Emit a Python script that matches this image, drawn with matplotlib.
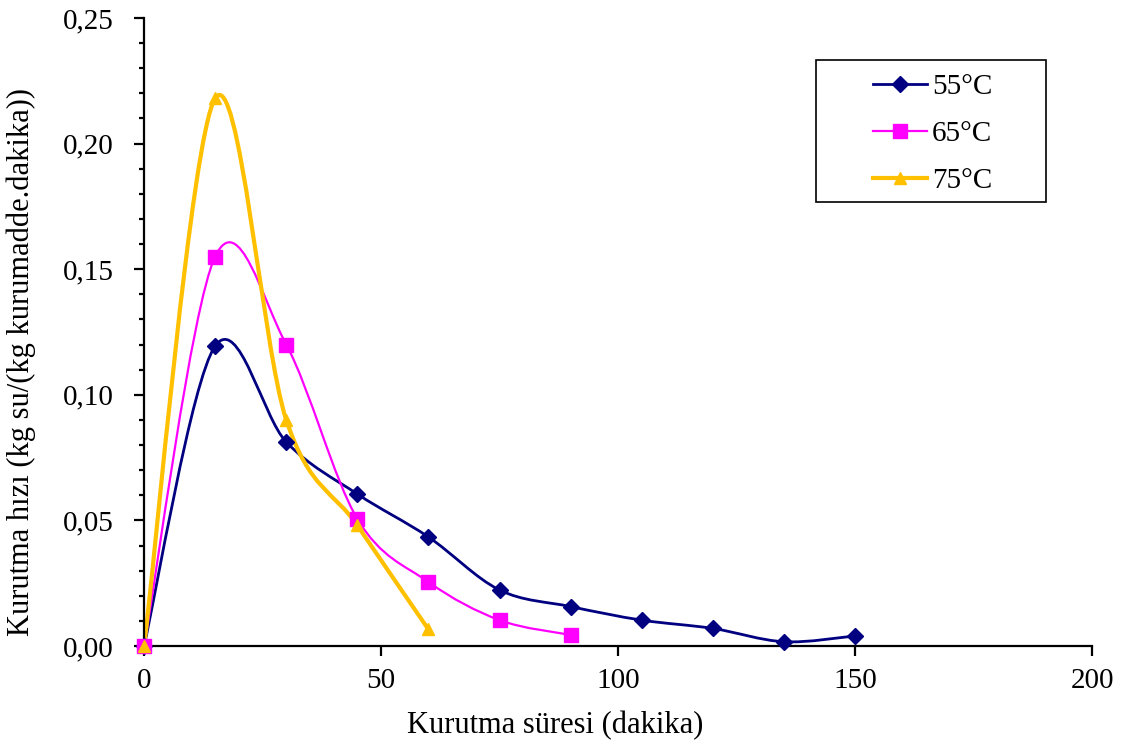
import numpy as np
import matplotlib
matplotlib.use("Agg")
import matplotlib.pyplot as plt
from matplotlib.path import Path
from matplotlib.patches import PathPatch, Rectangle
from matplotlib.lines import Line2D
from matplotlib.ticker import MultipleLocator, FuncFormatter

plt.rcParams['font.family'] = ['Liberation Serif', 'DejaVu Serif']

# drying rate data (kg water / (kg dry matter . min)) vs time (min)
t_55 = [0, 15, 30, 45, 60, 75, 90, 105, 120, 135, 150]
r_55 = [0.0, 0.1194, 0.0812, 0.0605, 0.0434, 0.0223, 0.0157, 0.0103, 0.0070, 0.0017, 0.0040]
t_65 = [0, 15, 30, 45, 60, 75, 90]
r_65 = [0.0, 0.155, 0.120, 0.0506, 0.0255, 0.0103, 0.0044]
t_75 = [0, 15, 30, 45, 60]
r_75 = [0.0, 0.218, 0.090, 0.048, 0.0066]

labels = ["55°C", "65°C", "75°C"]
colors = ["#000080", "#FF00FF", "#FFC000"]
markers = ["D", "s", "^"]
msizes = [8.5, 10, 9]
lwidths = [2.0, 1.6, 3.0]


def smooth_path(x, y):
    # smoothed line: cubic Bezier segments with Catmull-Rom tangents
    pts = np.column_stack([x, y]).astype(float)
    n = len(pts)
    verts = [pts[0]]
    codes = [Path.MOVETO]
    for i in range(n - 1):
        p0 = pts[i - 1] if i > 0 else pts[i]
        p1 = pts[i]
        p2 = pts[i + 1]
        p3 = pts[i + 2] if i + 2 < n else pts[i + 1]
        c1 = p1 + (p2 - p0) / 6.0
        c2 = p2 - (p3 - p1) / 6.0
        verts += [c1, c2, p2]
        codes += [Path.CURVE4] * 3
    return Path(verts, codes)


fig = plt.figure(figsize=(11.28, 7.49), dpi=100)
ax = fig.add_axes([0.1277, 0.1375, 0.8404, 0.8385])

series = [(t_55, r_55), (t_65, r_65), (t_75, r_75)]
handles = []
for (x, y), lab, c, m, ms, lw in zip(series, labels, colors, markers, msizes, lwidths):
    ax.add_patch(PathPatch(smooth_path(x, y), facecolor="none", edgecolor=c,
                           lw=lw, zorder=2, capstyle="round", joinstyle="round"))
    ax.plot(x, y, ls="none", marker=m, ms=ms, color=c, mec=c, zorder=3, clip_on=False)
    handles.append(Line2D([], [], color=c, lw=lw, marker=m, ms=ms, mec=c))

ax.set_xlim(0, 200)
ax.set_ylim(0, 0.25)
ax.xaxis.set_major_locator(MultipleLocator(50))
ax.yaxis.set_major_locator(MultipleLocator(0.05))
ax.yaxis.set_minor_locator(MultipleLocator(0.01))
ax.yaxis.set_major_formatter(FuncFormatter(lambda v, p: f"{v:.2f}".replace(".", ",")))

for s in ["top", "right"]:
    ax.spines[s].set_visible(False)
for s in ["left", "bottom"]:
    ax.spines[s].set_linewidth(1.6)

ax.tick_params(axis="both", which="major", direction="out", length=7, width=1.6,
               labelsize=21)
ax.tick_params(axis="y", which="major", pad=15)
ax.tick_params(axis="x", which="major", pad=9)
ax.tick_params(axis="y", which="minor", direction="out", length=3.5, width=1.6)

ax.set_xlabel("Kurutma süresi (dakika)", fontsize=22)
ax.set_ylabel("Kurutma hızı (kg su/(kg kurumadde.dakika))", fontsize=22)
ax.xaxis.set_label_coords(0.434, -0.103)
ax.yaxis.set_label_coords(-0.114, 0.452)

# legend frame drawn separately so the entries can sit with a wide left margin
ax.add_patch(Rectangle((0.709, 0.707), 0.2425, 0.226, transform=ax.transAxes,
                       facecolor="white", edgecolor="black", lw=1.2, zorder=4,
                       clip_on=False))
leg = ax.legend(handles, labels, loc="upper left", bbox_to_anchor=(0.769, 0.911),
                fontsize=21, frameon=False, handlelength=1.85, borderpad=0,
                labelspacing=0.7, handletextpad=0.17, borderaxespad=0)
leg.set_zorder(5)

fig.savefig("out.png", dpi=100)
